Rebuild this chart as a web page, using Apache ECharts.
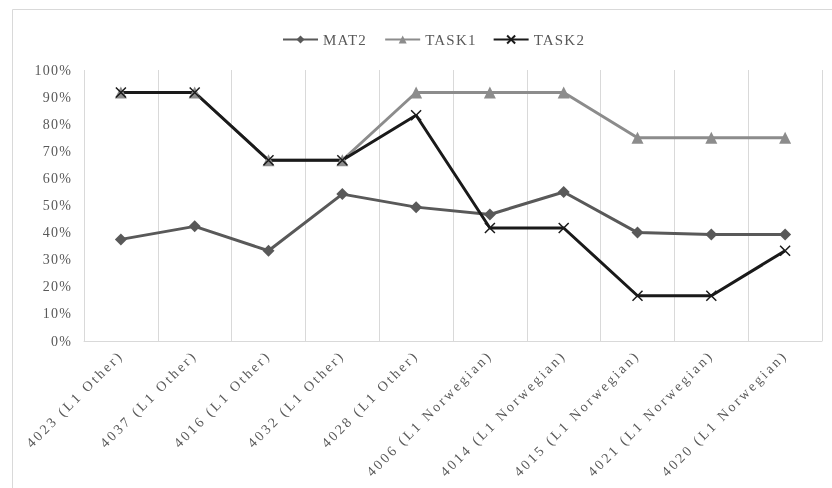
<!DOCTYPE html>
<html>
<head>
<meta charset="utf-8">
<script src="https://cdn.jsdelivr.net/npm/echarts@6/dist/echarts.min.js"></script>
<style>
  html, body { margin: 0; padding: 0; background: #fff; }
  #chart { width: 832px; height: 488px; }
  #chart svg { will-change: transform; }
  #chart svg text { letter-spacing: 1.2px; }
  #chart svg text.xcat { letter-spacing: 2.6px; }
</style>
</head>
<body>
<div id="chart"></div>
<script>
// Participants (x axis)
const categories = [
  '4023 (L1 Other)', '4037 (L1 Other)', '4016 (L1 Other)', '4032 (L1 Other)', '4028 (L1 Other)',
  '4006 (L1 Norwegian)', '4014 (L1 Norwegian)', '4015 (L1 Norwegian)', '4021 (L1 Norwegian)', '4020 (L1 Norwegian)'
];
// Scores, in percent
const mat2 = [37.5, 42.3, 33.3, 54.2, 49.4, 46.7, 55.0, 40.0, 39.3, 39.3];
const task1 = [91.7, 91.7, 66.7, 66.7, 91.7, 91.7, 91.7, 75.0, 75.0, 75.0];
const task2 = [91.7, 91.7, 66.7, 66.7, 83.3, 41.7, 41.7, 16.7, 16.7, 33.3];
// Y axis ticks
const yTicks = [0, 10, 20, 30, 40, 50, 60, 70, 80, 90, 100];

const FONT = "'Liberation Serif', 'Times New Roman', serif";
const TEXT = '#595959';
const crossPath = 'path://M0,0L10,10M10,0L0,10';

const chart = echarts.init(document.getElementById('chart'), null, { renderer: 'svg' });

chart.setOption({
  animation: false,
  backgroundColor: '#fff',
  graphic: [{
    type: 'rect',
    shape: { x: 12.5, y: 9.5, width: 830, height: 490 },
    style: { fill: 'none', stroke: '#d9d9d9', lineWidth: 1 },
    silent: true
  }],
  legend: {
    top: 27,
    left: 277,
    itemWidth: 35,
    itemHeight: 10,
    itemGap: 22,
    textStyle: { fontFamily: FONT, fontSize: 15, color: TEXT },
    data: ['MAT2', 'TASK1', 'TASK2']
  },
  grid: { left: 84, right: 10, top: 70, bottom: 147 },
  xAxis: {
    type: 'category',
    data: categories,
    boundaryGap: true,
    axisLine: { show: true, lineStyle: { color: '#d9d9d9', width: 1 } },
    axisTick: { show: false },
    splitLine: { show: true, lineStyle: { color: '#d9d9d9', width: 1 } },
    axisLabel: {
      rotate: 45,
      interval: 0,
      margin: 12,
      fontFamily: FONT,
      fontSize: 14,
      color: TEXT
    }
  },
  yAxis: {
    type: 'value',
    min: yTicks[0],
    max: yTicks[yTicks.length - 1],
    interval: 10,
    axisLine: { show: false },
    axisTick: { show: false },
    splitLine: { show: false },
    axisLabel: {
      formatter: '{value}%',
      margin: 12,
      fontFamily: FONT,
      fontSize: 14,
      color: TEXT
    }
  },
  series: [
    {
      name: 'MAT2', type: 'line', data: mat2,
      symbol: 'diamond', symbolSize: 12,
      lineStyle: { color: '#595959', width: 3 },
      itemStyle: { color: '#595959' }
    },
    {
      name: 'TASK1', type: 'line', data: task1,
      symbol: 'triangle', symbolSize: 12,
      lineStyle: { color: '#8c8c8c', width: 3 },
      itemStyle: { color: '#8c8c8c' }
    },
    {
      name: 'TASK2', type: 'line', data: task2,
      symbol: crossPath, symbolSize: 10,
      lineStyle: { color: '#1a1a1a', width: 3 },
      itemStyle: { color: '#1a1a1a', borderColor: '#1a1a1a', borderWidth: 1.5 }
    }
  ]
});

// Wider tracking on the rotated category labels
document.querySelectorAll('#chart svg text').forEach(function (t) {
  if (categories.indexOf(t.textContent) >= 0) t.classList.add('xcat');
});
</script>
</body>
</html>
